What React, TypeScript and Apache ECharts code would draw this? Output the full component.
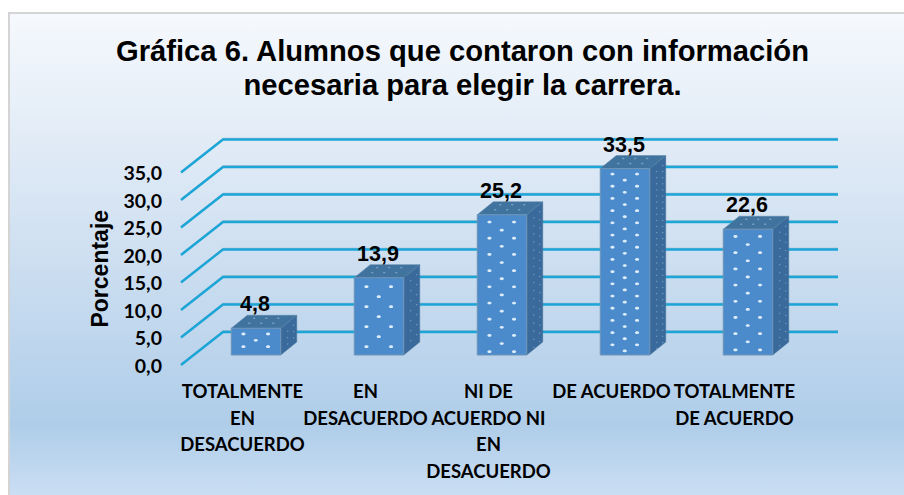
import React, { useEffect, useRef } from "react";
import * as echarts from "echarts";

const titleLines = [
  "Gráfica 6. Alumnos que contaron con información",
  "necesaria para elegir la carrera.",
];
const yAxisName = "Porcentaje";
const categories = [
  "TOTALMENTE\nEN\nDESACUERDO",
  "EN\nDESACUERDO",
  "NI DE\nACUERDO NI\nEN\nDESACUERDO",
  "DE ACUERDO",
  "TOTALMENTE\nDE ACUERDO",
];
const values = [4.8, 13.9, 25.2, 33.5, 22.6];
const wallTicks = [0, 5, 10, 15, 20, 25, 30, 35];

const WALL_DX = 42;
const WALL_DY = -33;
const BAR_DX = 13.5;
const BAR_DY = -10;
const BAR_W = 49.5;
const SIDE_DX = 16;
const SIDE_DY = -13;
const BAR_SCALE = 1.012;

const fmt = (v: number) => v.toFixed(1).replace(".", ",");

const rowGapFor = (h: number) => (h < 40 ? 12.7 : h < 100 ? 20 : h < 150 ? 16.2 : 12.2);

function renderWall(params: any, api: any) {
  const cs = params.coordSys;
  const y = api.coord([0, api.value(1)])[1];
  const pts = [
    [cs.x, y],
    [cs.x + WALL_DX, y + WALL_DY],
    [cs.x + WALL_DX + cs.width, y + WALL_DY],
  ];
  return {
    type: "group",
    children: [
      { type: "polyline", shape: { points: pts.map((p) => [p[0], p[1] - 1.2]) }, style: { fill: "none", stroke: "#7f9fb8", lineWidth: 1, opacity: 0.7 } },
      { type: "polyline", shape: { points: pts }, style: { fill: "none", stroke: "#1ca6d8", lineWidth: 2.4 } },
    ],
  };
}

function renderBar(params: any, api: any) {
  const v = api.value(1);
  const base = api.coord([api.value(0), 0]);
  const top = api.coord([api.value(0), v]);
  const h = (base[1] - top[1]) * BAR_SCALE;
  const cx = base[0] + BAR_DX;
  const x0 = cx - BAR_W / 2;
  const x1 = cx + BAR_W / 2;
  const yb = base[1] + BAR_DY;
  const yt = yb - h;
  const children: any[] = [
    {
      type: "polygon",
      shape: { points: [[x1, yt], [x1 + SIDE_DX, yt + SIDE_DY], [x1 + SIDE_DX, yb + SIDE_DY], [x1, yb]] },
      style: { fill: "#396a9b", stroke: "#4a7698", lineWidth: 0.5 },
    },
    {
      type: "polygon",
      shape: { points: [[x0, yt], [x0 + SIDE_DX, yt + SIDE_DY], [x1 + SIDE_DX, yt + SIDE_DY], [x1, yt]] },
      style: { fill: "#41739f", stroke: "#5a84a6", lineWidth: 0.5 },
    },
    {
      type: "rect",
      shape: { x: x0, y: yt, width: BAR_W, height: h },
      style: { fill: "#4b8bcb", stroke: "#6f94b4", lineWidth: 1 },
    },
  ];
  const gap = rowGapFor(h);
  let row = 0;
  for (let y = yt + gap * 0.45; y < yb - 2; y += gap / 2, row++) {
    const cols = row % 2 === 0 ? [12.2, 36.8] : [24.5];
    for (const c of cols) {
      children.push({
        type: "ellipse",
        shape: { cx: x0 + c, cy: y, rx: 2.1, ry: 1.4 },
        style: { fill: "#dcebf9" },
      });
    }
  }
  for (let y = yt + 6; y < yb - 2; y += gap / 2) {
    children.push({
      type: "circle",
      shape: { cx: x1 + 7, cy: y - 3, r: 0.6 },
      style: { fill: "#7ea3c6" },
    });
    children.push({
      type: "circle",
      shape: { cx: x1 + 13, cy: y - 9, r: 0.6 },
      style: { fill: "#7ea3c6" },
    });
  }
  for (const c of [12, 24, 36]) {
    children.push({
      type: "ellipse",
      shape: { cx: x0 + c + 6, cy: yt - 5, rx: 1.2, ry: 0.7 },
      style: { fill: "#7ea3c6" },
    });
    children.push({
      type: "ellipse",
      shape: { cx: x0 + c + 11, cy: yt - 10, rx: 1.2, ry: 0.7 },
      style: { fill: "#7ea3c6" },
    });
  }
  children.push({
    type: "text",
    x: cx - 1,
    y: yt - 24,
    style: {
      text: fmt(v),
      fill: "#000",
      font: 'bold 21.5px "Liberation Sans", Arial, sans-serif',
      textAlign: "center",
      textVerticalAlign: "middle",
    },
  });
  return { type: "group", children };
}

export default function App() {
  const ref = useRef<HTMLDivElement>(null);
  useEffect(() => {
    document.body.style.margin = "0";
    const chart = echarts.init(ref.current!, undefined, { renderer: "svg" });
    chart.setOption({
      animation: false,
      graphic: [
        {
          type: "rect",
          z: -10,
          silent: true,
          shape: { x: 9, y: 13, width: 900, height: 490 },
          style: {
            fill: new echarts.graphic.LinearGradient(0, 0, 0, 1, [
              { offset: 0, color: "#f6f9fd" },
              { offset: 0.4, color: "#d6e4f3" },
              { offset: 0.84, color: "#afcde9" },
              { offset: 1, color: "#cde0f4" },
            ]),
            stroke: "#d4d4d4",
            lineWidth: 2,
          },
        },
        {
          type: "text",
          silent: true,
          x: 462.5,
          y: 51,
          style: {
            text: titleLines[0],
            fill: "#000",
            font: 'bold 29.2px "Liberation Sans", Arial, sans-serif',
            textAlign: "center",
            textVerticalAlign: "middle",
          },
        },
        {
          type: "text",
          silent: true,
          x: 462.5,
          y: 85,
          style: {
            text: titleLines[1],
            fill: "#000",
            font: 'bold 29.2px "Liberation Sans", Arial, sans-serif',
            textAlign: "center",
            textVerticalAlign: "middle",
          },
        },
      ],
      grid: { left: 181, width: 615, top: 172.5, height: 192.5 },
      xAxis: {
        type: "category",
        data: categories,
        axisLine: { show: false },
        axisTick: { show: false },
        axisLabel: {
          interval: 0,
          margin: 13,
          color: "#000",
          fontFamily: "Lato",
          fontWeight: "bold",
          fontSize: 18.5,
          lineHeight: 26.5,
        },
      },
      yAxis: {
        type: "value",
        min: 0,
        max: 35,
        interval: 5,
        name: yAxisName,
        nameLocation: "middle",
        nameGap: 70,
        nameTextStyle: {
          color: "#000",
          fontFamily: '"Liberation Sans", Arial, sans-serif',
          fontWeight: "bold",
          fontSize: 23,
        },
        axisLine: { show: false },
        axisTick: { show: false },
        splitLine: { show: false },
        axisLabel: {
          margin: 19,
          color: "#000",
          fontFamily: "Lato",
          fontWeight: "bold",
          fontSize: 19.5,
          formatter: (v: number) => fmt(v),
        },
      },
      series: [
        {
          type: "custom",
          renderItem: renderWall,
          data: wallTicks.map((t) => [0, t]),
          silent: true,
          z: 1,
        },
        {
          type: "custom",
          renderItem: renderBar,
          data: values.map((v, i) => [i, v]),
          silent: true,
          z: 2,
        },
      ],
    });
    return () => chart.dispose();
  }, []);
  return <div ref={ref} style={{ position: "absolute", left: 0, top: 0, width: 904, height: 495 }} />;
}
